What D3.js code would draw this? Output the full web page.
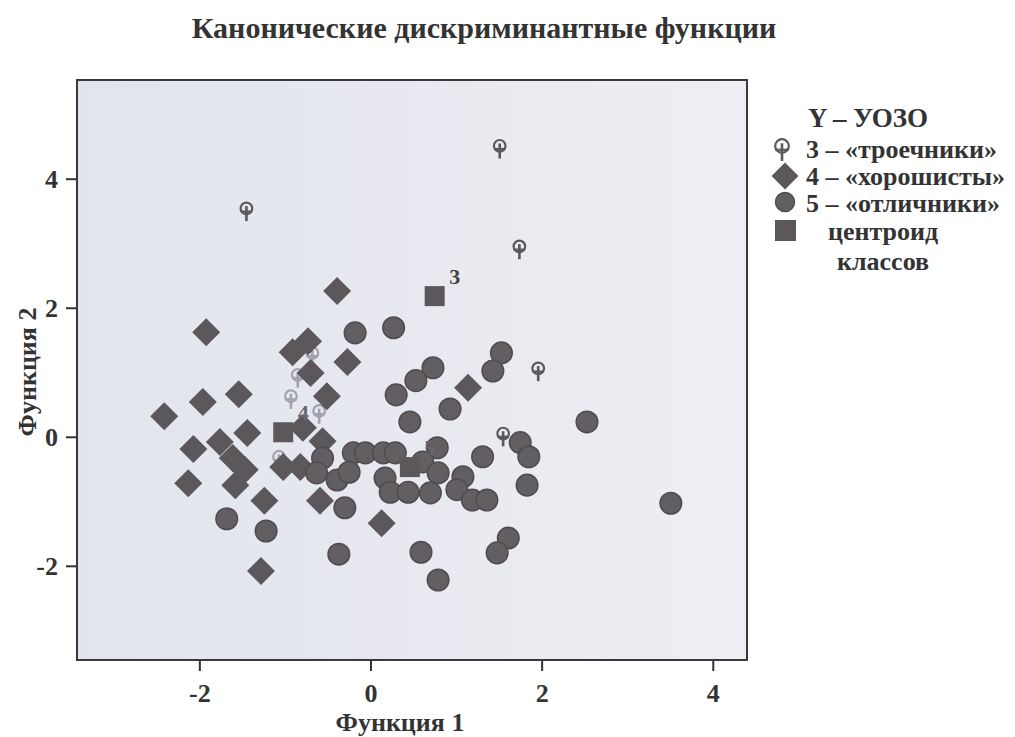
<!DOCTYPE html>
<html>
<head>
<meta charset="utf-8">
<script src="https://cdn.jsdelivr.net/npm/d3@7"></script>
<style>
  body { margin: 0; background: #fff; }
  text { font-family: "Liberation Serif", "DejaVu Serif", serif; font-weight: bold; fill: #333; }
</style>
</head>
<body>
<svg id="chart"></svg>
<script>
// class 3 - "троечники" (free standing)
const class3 = [
  [-1.45, 3.54], [1.51, 4.51], [1.74, 2.95], [1.96, 1.06], [1.55, 0.05]
];
// class 3 points lying under the class 4 cluster (only bits of them show)
const class3Overlap = [
  [-0.85, 0.96], [-0.93, 0.63], [-0.60, 0.40], [-0.68, 1.30], [-1.07, -0.31]
];
// class 4 - "хорошисты"
const class4 = [
  [-0.39, 2.26], [-1.92, 1.62], [-0.91, 1.31], [-0.73, 1.48], [-0.70, 0.99],
  [-0.27, 1.16], [-1.54, 0.66], [-1.96, 0.54], [-2.41, 0.32], [-0.51, 0.63],
  [-1.44, 0.06], [-0.79, 0.14], [-0.56, -0.07], [-2.07, -0.19], [-1.76, -0.08],
  [-1.61, -0.33], [-1.47, -0.51], [-1.58, -0.75], [-2.13, -0.72], [-1.02, -0.47],
  [-0.82, -0.47], [-1.24, -0.99], [-0.59, -0.99], [0.13, -1.34], [-1.28, -2.08],
  [1.14, 0.76]
];
// class 5 - "отличники"
const class5 = [
  [-0.18, 1.61], [0.27, 1.69], [1.53, 1.30], [1.43, 1.02], [0.73, 1.07],
  [0.53, 0.87], [0.30, 0.65], [0.93, 0.43], [0.46, 0.23], [2.53, 0.23],
  [1.75, -0.09], [1.85, -0.31], [1.31, -0.31], [0.78, -0.17], [1.83, -0.75],
  [3.51, -1.03], [-0.20, -0.25], [-0.06, -0.25], [0.15, -0.25], [0.29, -0.25],
  [-0.56, -0.33], [-0.63, -0.56], [-0.39, -0.67], [-0.25, -0.55], [0.17, -0.64],
  [0.23, -0.86], [0.44, -0.86], [0.61, -0.39], [0.79, -0.56], [0.70, -0.87],
  [1.08, -0.62], [1.01, -0.82], [1.19, -0.98], [1.36, -0.98], [-0.30, -1.10],
  [-1.68, -1.27], [-1.22, -1.46], [-0.37, -1.82], [0.59, -1.79], [0.79, -2.22],
  [1.61, -1.57], [1.48, -1.80]
];
// group centroids
const centroids = [
  { label: "3", x: 0.75, y: 2.18 },
  { label: "4", x: -1.02, y: 0.07 },
  { label: "5", x: 0.46, y: -0.47 }
];
const xTicks = [-2, 0, 2, 4];
const yTicks = [-2, 0, 2, 4];
const legendItems = ["3 – «троечники»", "4 – «хорошисты»", "5 – «отличники»"];

const width = 1015, height = 737;
const plot = { left: 77, right: 747, top: 80, bottom: 660 };
const markColor = "#5b575a";

const svg = d3.select("#chart").attr("width", width).attr("height", height);

const xScale = d3.scaleLinear().domain([-3.43, 4.40]).range([plot.left, plot.right]);
const yScale = d3.scaleLinear().domain([-3.46, 5.53]).range([plot.bottom, plot.top]);

// background of the plot area
const defs = svg.append("defs");
const grad = defs.append("linearGradient").attr("id", "bg").attr("x1", "0").attr("x2", "1").attr("y1", "0").attr("y2", "0");
grad.append("stop").attr("offset", "0").attr("stop-color", "#e2e4ec");
grad.append("stop").attr("offset", "1").attr("stop-color", "#eeeff4");

svg.append("rect").attr("x", plot.left).attr("y", plot.top)
  .attr("width", plot.right - plot.left).attr("height", plot.bottom - plot.top)
  .attr("fill", "url(#bg)");

// title
svg.append("text").attr("x", 484).attr("y", 38).attr("text-anchor", "middle")
  .style("font-size", "30px").text("Канонические дискриминантные функции");

// axes
const xAxis = d3.axisBottom(xScale).tickValues(xTicks).tickSize(11).tickSizeOuter(0).tickPadding(8).tickFormat(d => String(d));
const yAxis = d3.axisLeft(yScale).tickValues(yTicks).tickSize(11).tickSizeOuter(0).tickPadding(8).tickFormat(d => String(d));

const gx = svg.append("g").attr("class", "x-axis").attr("transform", `translate(0, ${plot.bottom})`).call(xAxis);
const gy = svg.append("g").attr("class", "y-axis").attr("transform", `translate(${plot.left}, 0)`).call(yAxis);
[gx, gy].forEach(g => {
  g.select(".domain").remove();
  g.selectAll(".tick line").attr("stroke", "#333").attr("stroke-width", 2);
  g.selectAll(".tick text").style("font-size", "26px").attr("fill", "#333");
});
gx.selectAll(".tick text").attr("dy", "0.9em");
gy.selectAll(".tick text").attr("dy", "0.34em");

svg.append("text").attr("x", 400).attr("y", 731).attr("text-anchor", "middle")
  .style("font-size", "26px").text("Функция 1");
svg.append("text").attr("transform", "translate(36, 372) rotate(-90)").attr("text-anchor", "middle")
  .style("font-size", "26px").text("Функция 2");

const chart = svg.append("g").attr("class", "points");

// class 3 symbol: open circle with cross and stem
function drawClass3(g, r, color) {
  g.append("circle").attr("r", r).attr("fill", "none").attr("stroke", color).attr("stroke-width", 2.2);
  g.append("line").attr("x1", -r).attr("x2", r).attr("y1", r * 0.55).attr("y2", r * 0.55).attr("stroke", color).attr("stroke-width", 2.2);
  g.append("line").attr("x1", 0).attr("x2", 0).attr("y1", -r * 0.4).attr("y2", r * 2.2).attr("stroke", color).attr("stroke-width", 2.6);
}
const diamond = h => `M0,${-h}L${h},0L0,${h}L${-h},0Z`;

chart.selectAll(".c3h").data(class3Overlap).join("g").attr("class", "c3h")
  .attr("transform", d => `translate(${xScale(d[0])}, ${yScale(d[1])})`)
  .each(function () { drawClass3(d3.select(this), 5.8, "#a3a1ad"); });

chart.selectAll(".c3").data(class3).join("g").attr("class", "c3")
  .attr("transform", d => `translate(${xScale(d[0])}, ${yScale(d[1])})`)
  .each(function () { drawClass3(d3.select(this), 5.8, markColor); });

chart.selectAll(".c4").data(class4).join("path").attr("class", "c4")
  .attr("d", diamond(14)).attr("fill", markColor)
  .attr("transform", d => `translate(${xScale(d[0])}, ${yScale(d[1])})`);

chart.selectAll(".c5").data(class5).join("circle").attr("class", "c5")
  .attr("r", 10.8).attr("fill", "#625e61").attr("stroke", "#504c4f").attr("stroke-width", 1.5)
  .attr("cx", d => xScale(d[0])).attr("cy", d => yScale(d[1]));

chart.selectAll(".cent").data(centroids).join("rect").attr("class", "cent")
  .attr("width", 20).attr("height", 20).attr("fill", markColor)
  .attr("x", d => xScale(d.x) - 10).attr("y", d => yScale(d.y) - 10);

chart.selectAll(".cent-label").data(centroids).join("text").attr("class", "cent-label")
  .attr("x", d => xScale(d.x) + 20).attr("y", d => yScale(d.y) - 12)
  .attr("text-anchor", "middle").style("font-size", "22px")
  .style("fill", d => d.label === "3" ? "#444" : "#6a6670")
  .text(d => d.label);

// frame
svg.append("rect").attr("x", plot.left).attr("y", plot.top)
  .attr("width", plot.right - plot.left).attr("height", plot.bottom - plot.top)
  .attr("fill", "none").attr("stroke", "#3a3a3a").attr("stroke-width", 2);

// legend
const legend = svg.append("g").attr("class", "legend");
legend.append("text").attr("x", 868).attr("y", 127).attr("text-anchor", "middle")
  .style("font-size", "27px").text("Y – УОЗО");

const rowY = [149, 176, 203];
legend.selectAll(".leg-text").data(legendItems).join("text").attr("class", "leg-text")
  .attr("x", 806).attr("y", (d, i) => rowY[i] + 9).style("font-size", "26px").text(d => d);

const s3 = legend.append("g").attr("transform", "translate(782, 146)");
drawClass3(s3, 6.8, markColor);
legend.append("path").attr("d", diamond(13.5)).attr("fill", markColor).attr("transform", "translate(785, 176)");
legend.append("circle").attr("cx", 785).attr("cy", 202).attr("r", 9.5).attr("fill", "#625e61").attr("stroke", "#504c4f").attr("stroke-width", 1.5);
legend.append("rect").attr("x", 775).attr("y", 220).attr("width", 21).attr("height", 21).attr("fill", markColor);
legend.append("text").attr("x", 828).attr("y", 240).style("font-size", "26px").text("центроид");
legend.append("text").attr("x", 837).attr("y", 270).style("font-size", "26px").text("классов");
</script>
</body>
</html>
